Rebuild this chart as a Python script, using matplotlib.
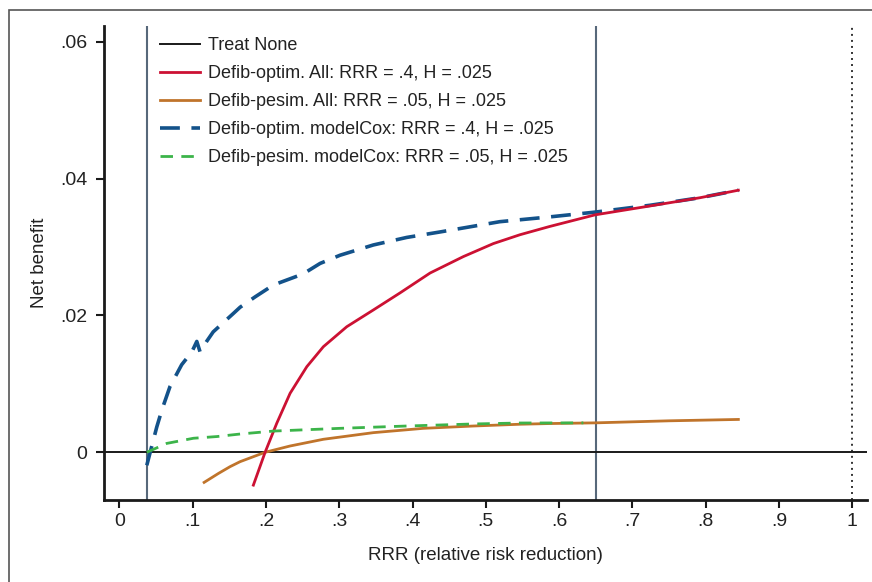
import matplotlib
matplotlib.use("Agg")
import matplotlib.pyplot as plt
from matplotlib import font_manager
from matplotlib.patches import Rectangle

# ---- data ----
red_x = [0.1828, 0.1988, 0.2147, 0.2329, 0.2557, 0.2783, 0.3102, 0.3465, 0.383, 0.4239, 0.4693,
         0.5102, 0.5467, 0.587, 0.649, 0.724, 0.792, 0.8445]
red_y = [-0.0048, 0.0, 0.00424, 0.00862, 0.01251, 0.01543, 0.01835, 0.0208, 0.0233, 0.0262, 0.0286,
         0.0305, 0.0318, 0.0330, 0.0347, 0.0360, 0.0372, 0.0383]

orange_x = [0.1156, 0.135, 0.151, 0.1647, 0.1988, 0.2329, 0.2783, 0.3465, 0.4147, 0.483, 0.5467,
            0.587, 0.649, 0.75, 0.8445]
orange_y = [-0.0044, -0.0031, -0.0021, -0.00137, 0.0, 0.00092, 0.0019, 0.00287, 0.0035, 0.00384, 0.0041,
            0.0042, 0.0043, 0.0046, 0.0048]

blue_x = [0.0374, 0.042, 0.051, 0.058, 0.069, 0.085, 0.099, 0.1056, 0.110, 0.119, 0.128, 0.1556,
          0.1647, 0.185, 0.2101, 0.2465, 0.2557, 0.2738, 0.3011, 0.3465, 0.392, 0.4375, 0.519, 0.587,
          0.649, 0.724, 0.792, 0.8445]
blue_y = [-0.0019, 0.0, 0.0037, 0.0062, 0.0096, 0.0128, 0.0147, 0.0162, 0.0147, 0.0162, 0.0176, 0.0203,
          0.0212, 0.0227, 0.02445, 0.0259, 0.0264, 0.0276, 0.0288, 0.0303, 0.0314, 0.0322, 0.0337, 0.0344,
          0.0351, 0.0361, 0.0372, 0.0383]

green_x = [0.0374, 0.0647, 0.101, 0.133, 0.1647, 0.2101, 0.3011, 0.392, 0.483, 0.5467, 0.633]
green_y = [0.0, 0.0013, 0.00205, 0.0023, 0.00267, 0.0031, 0.0035, 0.00384, 0.00414, 0.00428, 0.0043]

vlines_solid = [0.038, 0.65]
vline_dotted = [1.0]

labels = ["Treat None",
          "Defib-optim. All: RRR = .4, H = .025",
          "Defib-pesim. All: RRR = .05, H = .025",
          "Defib-optim. modelCox: RRR = .4, H = .025",
          "Defib-pesim. modelCox: RRR = .05, H = .025"]

xticks = [0, .1, .2, .3, .4, .5, .6, .7, .8, .9, 1]
xticklabels = ["0", ".1", ".2", ".3", ".4", ".5", ".6", ".7", ".8", ".9", "1"]
yticks = [0, .02, .04, .06]
yticklabels = ["0", ".02", ".04", ".06"]

# ---- fonts ----
avail = {f.name for f in font_manager.fontManager.ttflist}
base_font = "Liberation Sans" if "Liberation Sans" in avail else "DejaVu Sans"
plt.rcParams["font.family"] = base_font

W, H = 872, 582
fig = plt.figure(figsize=(W / 100, H / 100), dpi=100)
ax = fig.add_axes([104 / W, 1 - 499.5 / H, (867 - 104) / W, (499.5 - 26) / H])

# outer border (left and top visible)
fig.patches.append(Rectangle((9 / W, -0.05), 1.2, (H - 10) / H + 0.05, transform=fig.transFigure,
                             fill=False, edgecolor="#555555", linewidth=1.2, zorder=0))

vcol = "#57687a"
for v in vlines_solid:
    ax.axvline(v, color=vcol, lw=1.5, zorder=1)
for v in vline_dotted:
    ax.axvline(v, color="#333333", lw=1.4, linestyle=(0, (1, 2.1)), zorder=1)

l0 = ax.axhline(0, color="#1a1a1a", lw=1.4, zorder=2)
l1, = ax.plot(red_x, red_y, color="#cc1133", lw=2.0, zorder=4, solid_joinstyle="round")
l2, = ax.plot(orange_x, orange_y, color="#c0742b", lw=2.0, zorder=3, solid_joinstyle="round")
l3, = ax.plot(blue_x, blue_y, color="#13528a", lw=2.6, linestyle=(0, (5.5, 3.2)), zorder=3)
l4, = ax.plot(green_x, green_y, color="#3cb44a", lw=2.0, linestyle=(0, (4.5, 3)), zorder=5)

ax.set_xlim(-0.021, 1.020)
ax.set_ylim(-0.0069, 0.0623)

ax.spines["top"].set_visible(False)
ax.spines["right"].set_visible(False)
for s in ("left", "bottom"):
    ax.spines[s].set_linewidth(2.0)
    ax.spines[s].set_color("#1a1a1a")

ax.set_xticks(xticks)
ax.set_xticklabels(xticklabels)
ax.set_yticks(yticks)
ax.set_yticklabels(yticklabels)
ax.tick_params(axis="both", direction="out", length=6, width=1.5, color="#1a1a1a",
               labelsize=14, labelcolor="#222222")
ax.tick_params(axis="x", pad=4)
ax.tick_params(axis="y", pad=6)

ax.set_xlabel("RRR (relative risk reduction)", fontsize=13.5, color="#222222", labelpad=12)
ax.set_ylabel("Net benefit", fontsize=13.5, color="#222222", labelpad=9)

leg = ax.legend([l0, l1, l2, l3, l4], labels, loc="upper left",
                bbox_to_anchor=((160 - 104) / (867 - 104), 1 - (37 - 26) / 473.5),
                frameon=False, fontsize=13, handlelength=2.2, handletextpad=0.45,
                labelspacing=0.61, borderpad=0, borderaxespad=0)
for t in leg.get_texts():
    t.set_color("#222222")

fig.savefig("out.png", dpi=100)
